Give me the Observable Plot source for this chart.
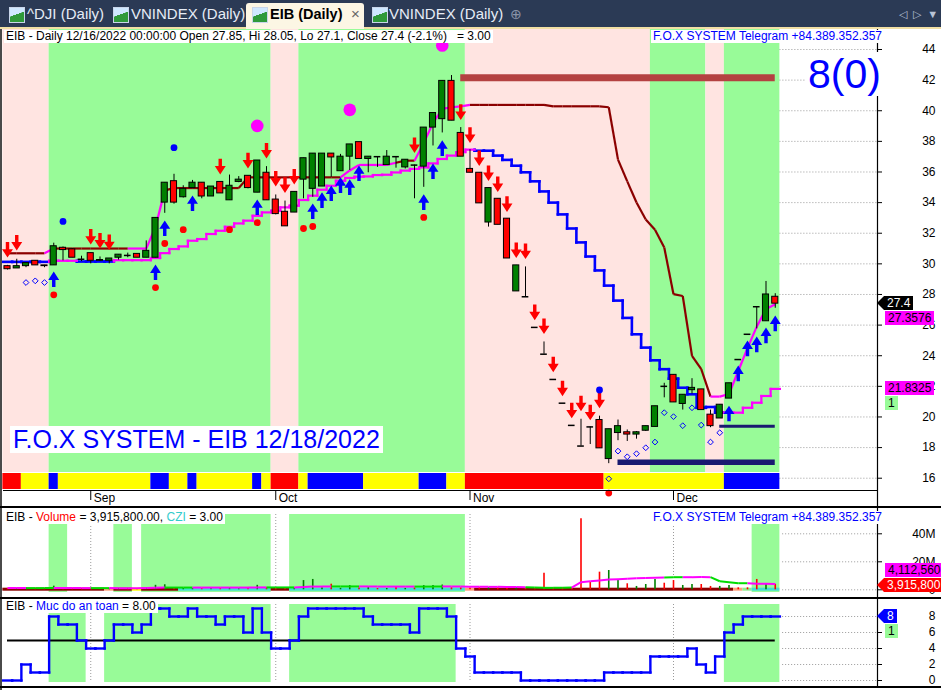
<!DOCTYPE html>
<html>
<head>
<meta charset="utf-8">
<script src="https://cdn.jsdelivr.net/npm/d3@7"></script>
<script src="https://cdn.jsdelivr.net/npm/@observablehq/plot@0.6"></script>
<style>
  html,body{margin:0;padding:0;background:#fff;}
  #wrap{position:relative;width:941px;height:690px;overflow:hidden;background:#fff;font-family:Arial,"Liberation Sans",sans-serif;}
  .a{position:absolute;white-space:pre;}
  .tab{top:4px;height:20px;line-height:20px;font-size:15px;color:#e6ecf5;}
  .icon{top:7px;width:14px;height:14px;border:1px solid #c9d6ea;background:linear-gradient(160deg,#cfe8ff 0 45%,#2f9a3a 46% 100%);}
  .hdr{font-size:12px;line-height:13px;height:13px;background:#fff;color:#000;padding:0 2px;}
  .tag{font-size:12px;line-height:14px;height:14px;padding:0 3px;}
  .sep{left:0;width:941px;height:2px;background:#000;}
  svg{position:absolute;left:0;}
</style>
</head>
<body>
<div id="wrap"></div>
<script>
// ---------------- DATA ----------------
const open  = [29.85,29.7,29.85,30.2,29.9,29.9,31.05,30.95,30.3,30.7, 30.2,30.2,30.4,30.55,30.65,30.4,30.4,34.0,35.4,34.35, 34.95,35.3,34.4,35.35,34.15,35.35,35.75,34.65,35.95,34.2, 33.4,33.35,35.5,34.9,35.05,37.2,36.05,37.0,37.95,36.85, 37.0,36.45,37.0,36.3,36.45,36.35,38.9,39.45,41.95,38.55, 36.2,35.95,32.7,34.25,32.95,28.2,27.85,25.85,24.1,22.45, 20.9,19.45,18.1,19.35,19.8,17.25,18.95,19.0,18.85,19.1, 19.35,22.0,22.75,20.85,21.75,21.8,20.15,19.9,21.2,23.75, 25.4,27.2,26.25,27.85];
const high  = [29.9,30.3,30.05,30.2,29.9,31.35,31.1,31.0,30.5,30.7, 30.45,30.35,30.6,30.7,30.65,31.5,33.0,35.3,35.85,35.1, 35.45,35.3,35.05,35.35,35.8,35.7,35.75,36.75,36.35,34.5, 34.1,34.7,36.9,37.2,37.2,37.2,37.15,37.8,37.95,37.0, 37.0,37.4,37.0,36.8,36.45,38.9,39.85,41.95,42.3,38.9, 37.45,35.95,34.95,34.25,32.95,29.9,29.8,25.85,24.9,22.45, 20.9,19.45,19.85,19.35,20.05,19.2,19.8,19.15,19.05,19.4, 20.7,22.2,22.75,21.45,22.5,21.8,20.45,20.8,22.2,23.75, 25.4,27.2,28.85,28.05];
const low   = [29.6,29.7,29.75,29.9,29.75,29.9,30.2,30.4,30.15,30.0, 30.15,30.0,30.25,30.4,30.4,30.4,30.4,33.3,33.9,34.3, 34.9,34.25,34.4,34.6,34.15,35.3,34.9,34.65,34.15,33.2, 32.45,33.35,34.25,34.35,35.05,35.65,36.05,36.1,36.85,35.95, 36.3,36.45,36.25,36.2,34.25,35.0,37.7,38.55,39.35,37.0, 35.95,33.95,32.4,32.55,30.35,28.2,27.85,25.85,24.1,22.45, 20.9,19.45,18.1,18.2,17.95,16.95,18.45,18.4,18.55,19.05, 19.35,21.25,20.95,20.45,21.5,20.45,19.3,19.9,21.2,23.75, 25.4,25.75,26.25,27.1];
const close = [29.65,29.85,30.05,29.9,29.85,31.15,30.9,30.4,30.3,30.2, 30.25,30.35,30.6,30.55,30.4,30.85,33.0,35.3,34.0,34.9, 35.3,34.4,35.05,34.6,35.1,35.5,34.95,36.75,34.15,33.25, 32.45,34.7,36.9,37.2,37.2,36.95,37.0,37.8,36.85,37.0, 37.0,37.0,37.0,36.8,36.45,38.9,39.85,41.95,39.35,37.0, 35.95,33.95,34.95,32.55,30.35,29.9,27.85,25.85,24.1,22.45, 20.9,19.45,18.1,19.35,17.95,19.2,19.4,18.85,19.0,19.4, 20.7,22.0,20.95,21.45,21.9,20.45,19.4,20.8,22.2,23.75, 25.4,27.2,28.0,27.4];

const monthTicks  = [9, 29, 50, 72];
const monthLabels = ["Sep", "Oct", "Nov", "Dec"];
const priceTicks  = [16,18,20,22,24,26,28,30,32,34,36,38,40,42,44];
const volTicks    = [0, 20, 40];
const safetyTicks = [0, 2, 4, 6, 8];

// background regime per bar range
const mainBgRuns = [["pink",0,4],["green",5,28],["pink",29,31],["green",32,49],["pink",50,69],["green",70,75],["pink",76,77],["green",78,83]];
const stripRuns  = [["red",0,1],["yellow",2,4],["blue",5,5],["yellow",6,15],["blue",16,17],["yellow",18,19],["blue",20,20],["yellow",21,26],["blue",27,27],["yellow",28,28],["red",29,31],["yellow",32,32],["blue",33,38],["yellow",39,44],["blue",45,47],["yellow",48,49],["red",50,64],["yellow",65,77],["blue",78,83]];

// upper trailing line (dark red / magenta)
const upperLine = [30.69,30.69,30.69,30.69,30.69, 31.0, 31.0,31.0,31.0,31.0,31.0,31.0,31.0,31.0, 31.0,31.0, 32.4,34.8,
  34.95,34.95,34.95,34.95,34.95,34.95,34.95,34.95, 35.65,35.65,35.65,35.65,35.65,35.65,35.65,35.65,35.65,35.65,35.65,
  36.1, 36.46,36.46,36.46,36.46, 36.6, 36.74,36.74, 37.9,39.2,40.12,40.23,40.29,40.38,
  40.38,40.38,40.38,40.38,40.38,40.38,40.38,40.38, 40.29,40.29,40.29,40.29,40.29,40.29,
  40.23,36.81,35.39,34.01,32.9,32.23,31.07,28.02,27.9,23.99,23.12,21.33,21.33, 21.5,23.0,24.5,25.9,27.05,27.3576];
const upperRuns = [["d",0,4],["m",5,5],["d",6,13],["m",14,17],["d",18,36],["m",37,42],["d",43,44],["m",45,50],["d",51,76],["m",77,83]];

// lower stepped line (blue / magenta)
const lowerLine = [30.13,30.13,30.13,30.13,30.13, 30.2,30.2,30.2, 30.15,30.15,30.15,30.15, 30.24,30.24,30.24,30.24,
  30.38,30.7,30.97,31.14,31.51,31.62,31.95,32.16,32.42,32.64, 32.82,33.14,33.36,33.47,33.69,33.8,34.17,34.45,34.84,35.1,
  35.43,35.61,35.69,35.71,35.8,35.82,35.97,36.09,36.2,36.3, 36.56,36.85,37.07,37.3,37.46,
  37.39,37.39,37.07,36.79,36.41,35.98,35.39,34.73,34.0,33.23, 32.31,31.4,30.48,29.57,28.58,27.6,26.47,25.4,24.53,23.7,
  23.12,22.5,21.91,21.48,20.6,20.65,20.28, 20.28,20.28,20.6,20.93,21.37,21.8325];
const lowerRuns = [["b",0,4],["m",5,7],["b",8,11],["m",12,50],["b",51,77],["m",78,83]];

// horizontal levels
const resistance = [{from: 49, to: 83, price: 42.15}];
const supportLow = [{from: 66, to: 83, price: 17.05}];
const supportHigh = [{from: 77, to: 83, price: 19.39}];

// signals [bar, price]
const sellArrows = [[0,30.92],[1,31.38],[9,31.77],[10,31.51],[11,31.41],[23,36.35],[26,36.74],[28,37.39],[29,35.56],[30,35.14],[31,35.69],[44,37.75],[49,39.91],[50,38.41],[51,36.9],[52,35.92],[53,35.2],[54,33.9],[55,30.89],[56,30.82],[57,26.83],[58,25.92],[59,23.43],[60,21.86],[61,20.42],[62,20.88],[63,20.29],[64,21.08]];
const buyArrows  = [[5,28.99],[16,29.45],[17,32.33],[20,33.96],[27,33.7],[33,33.44],[34,34.16],[35,34.61],[36,35.14],[37,35.01],[38,35.92],[45,34.03],[46,36.05],[47,37.56],[78,20.23],[79,22.85],[80,24.48],[81,24.74],[82,25.33],[83,26.11]];
const redDots    = [[5,27.98],[16,28.45],[17,31.33],[19,32.23],[24,32.23],[27,32.69],[32,32.31],[33,32.44],[45,33.03],[65,15.03]];
const blueDots   = [[6,32.77],[18,37.59],[64,21.76]];
const bigCircles = [[27,39.01],[37,40.06],[47,44.26]];
const openDiamonds = [[2,28.78],[3,28.89],[4,28.78],[65,15.96],[66,17.77],[67,17.4],[68,17.6],[69,17.99],[70,18.36],[71,20.28],[72,20.02],[73,19.43],[74,20.6],[75,19.47],[76,18.36],[77,18.97]];

// volume panel (millions)
const volume = [0.9,0.6,0.8,0.7,0.6,2.6,0.9,1.0,0.6,0.9, 0.7,0.7,0.8,0.6,0.9,1.1,3.2,3.6,1.3,1.0, 1.0,0.9,0.9,1.1,1.3,0.8,1.1,3.2,1.4,1.2, 1.3,1.2,6.6,7.4,1.4,4.0,1.1,3.0,1.3,1.8, 0.9,1.0,2.2,1.0,1.3,3.0,3.0,3.4,1.5,1.4, 1.3,1.5,1.6,1.4,1.6,1.6,0.9,0.6,11.9,1.3, 1.5,1.3,50.7,5.4,12.6,13.8,6.6,4.3,2.4,3.8, 7.4,4.7,6.6,3.1,3.8,3.8,2.4,2.4,3.1,1.4, 1.4,7.4,4.3,3.9158];
const volMA  = [1.3,1.3,1.2,1.2,1.2,1.3,1.3,1.3,1.2,1.2, 1.2,1.2,1.1,1.1,1.1,1.2,1.4,1.6,1.6,1.6, 1.6,1.6,1.6,1.6,1.6,1.6,1.6,1.7,1.7,1.7, 1.7,1.7,2.0,2.3,2.3,2.4,2.4,2.4,2.4,2.4, 2.3,2.3,2.3,2.3,2.3,2.3,2.3,2.4,2.4,2.3, 2.2,2.2,2.1,2.1,2.0,2.0,1.9,1.6,1.4,1.4, 1.5,1.6,5.4,6.1,6.6,7.4,7.6,7.9,8.2,8.5, 8.6,8.8,9.0,9.0,9.0,9.2,9.0,6.1,5.4,4.7, 4.7,4.3,4.3,4.11256];
const volMARuns = [["m",0,2],["g",3,5],["m",6,9],["g",10,11],["m",12,17],["g",18,20],["m",21,28],["g",29,31],["m",32,35],["g",36,38],["m",39,44],["g",45,47],["m",48,56],["g",57,61],["m",62,71],["g",72,73],["m",74,76],["g",77,80],["m",81,83]];
const cziRuns = [["darkred",0,10],["orange",11,11],["darkred",12,13],["yellow",14,14],["darkred",15,18],["turq",19,28],["darkred",29,30],["turq",31,49],["orange",50,50],["darkred",51,78],["orange",79,79],["lgreen",80,80],["turq",81,83]];
const cziValue = 3.00;
const volBgRuns = [[5,6],[12,13],[15,28],[31,49],[81,83]];

// safety level panel ("Muc do an toan")
const safety = [0,0,2,1,1,8,7,7,5,4, 4,5,7,7,6,7,9,9,8,8, 9,8,8,7,8,8,6,9,6,4, 4,5,8,9,9,9,9,9,9,8, 7,7,7,7,6,9,9,9,8,4, 3,1,1,1,1,1,0,0,0,0, 0,0,0,0,0,1,1,1,1,1, 3,3,3,3,4,2,1,3,6,7, 8,8,8,8];
const safeLevel = 5;
const lastDate = "12/16/2022";

// ---------------- HELPERS ----------------
const FONT = "Arial, 'Liberation Sans', sans-serif";
const N = close.length;
const COL = {pink:"#ffe4e1", green:"#98fb98", red:"#ff0000", yellow:"#ffff00", blue:"#0000ff",
  darkred:"#8b0000", magenta:"#ff00ff", turq:"#40e0d0", orange:"#ffa07a", lgreen:"#90ee90",
  candleUp:"#008000", candleDown:"#ff0000", maGreen:"#00dd00"};
function expandRuns(runs, n){ const out = new Array(n); for (const [k,a,b] of runs) for (let i=a;i<=b;i++) out[i]=k; return out; }
function polySegments(values, states){ return values.slice(1).map((v,k)=>({x1:k,x2:k+1,y1:values[k],y2:v,s:states[k+1]})); }
function stepSegments(values, states){
  const segs=[];
  values.forEach((v,i)=>{
    segs.push({x1:i-0.5,x2:i+0.5,y1:v,y2:v,s:states[i]});
    if (i>0) segs.push({x1:i-0.5,x2:i-0.5,y1:values[i-1],y2:v,s:states[i]});
  });
  return segs;
}
const bars = d3.range(N).map(i=>({i,o:open[i],h:high[i],l:low[i],c:close[i],v:volume[i]}));
const candleColor = d => d.c > d.o ? COL.candleUp : COL.candleDown;

// layout: 9.25 px per bar, first bar at x=7, frame from x=3 to x=877
const PXB = 9.25, FRAME_L = 3, FRAME_R = 877, FIRST_X = 7;
const xMin = -(FIRST_X-FRAME_L)/PXB, xMax = xMin + (FRAME_R-FRAME_L)/PXB;
const xEnd = N - 0.5;

const arrowDown = {draw(ctx,size){const r=Math.sqrt(size/Math.PI);
  ctx.moveTo(-0.22*r,-r);ctx.lineTo(0.22*r,-r);ctx.lineTo(0.22*r,-0.08*r);ctx.lineTo(0.7*r,-0.08*r);
  ctx.lineTo(0,r);ctx.lineTo(-0.7*r,-0.08*r);ctx.lineTo(-0.22*r,-0.08*r);ctx.closePath();}};
const arrowUp = {draw(ctx,size){const r=Math.sqrt(size/Math.PI);
  ctx.moveTo(-0.22*r,r);ctx.lineTo(0.22*r,r);ctx.lineTo(0.22*r,0.08*r);ctx.lineTo(0.7*r,0.08*r);
  ctx.lineTo(0,-r);ctx.lineTo(-0.7*r,0.08*r);ctx.lineTo(-0.22*r,0.08*r);ctx.closePath();}};

const wrap = document.getElementById("wrap");
function el(cls, css, html){ const d=document.createElement("div"); d.className=cls; Object.assign(d.style, css); if (html!=null) d.innerHTML=html; wrap.appendChild(d); return d; }
function tag(left, top, text, bg, fg, arrow){
  el("a tag", {left:left+"px", top:top+"px", background:bg, color:fg}, text);
  if (arrow) el("a", {left:(left-7)+"px", top:top+"px", width:"0", height:"0", borderTop:"7px solid transparent", borderBottom:"7px solid transparent", borderRight:"7px solid "+bg});
}

// ---------------- MAIN PRICE PANEL ----------------
const MAIN_TOP = 29, MAIN_H = 477, PX_PRICE = 15.311;
const yMin = 44 - (461-20)/PX_PRICE;
const upStates = expandRuns(upperRuns, N);
const lowStates = expandRuns(lowerRuns, N);
const lowSegs = stepSegments(lowerLine, lowStates);
const upSegs = polySegments(upperLine, upStates);
const bodyBars = bars.filter(d=>d.o!==d.c);
const flatBars = bars.filter(d=>d.o===d.c);

const main = Plot.plot({
  width: 941, height: MAIN_H,
  marginLeft: FRAME_L, marginRight: 941-FRAME_R, marginTop: 20, marginBottom: MAIN_H-461,
  x: {type:"linear", domain:[xMin,xMax]},
  y: {type:"linear", domain:[yMin,44]},
  style: {fontFamily: FONT, fontSize:"12px", background:"transparent", overflow:"visible"},
  marks: [
    Plot.ruleY(priceTicks, {x1: xEnd, x2: xMax, stroke:"#9a9a9a", strokeDasharray:"1,2"}),
    Plot.rect(mainBgRuns, {x1:d=>d[1]-0.5, x2:d=>d[2]+0.5, fill:d=>COL[d[0]], insetTop:-20, insetBottom:18}),
    Plot.rect(stripRuns, {x1:d=>d[1]-0.5, x2:d=>d[2]+0.5, fill:d=>COL[d[0]], insetTop:424, insetBottom:1}),
    Plot.link(lowSegs.filter(d=>d.s==="b"), {x1:"x1",x2:"x2",y1:"y1",y2:"y2", stroke:COL.blue, strokeWidth:2.6, strokeLinecap:"square"}),
    Plot.link(lowSegs.filter(d=>d.s==="m"), {x1:"x1",x2:"x2",y1:"y1",y2:"y2", stroke:COL.magenta, strokeWidth:2.2, strokeLinecap:"square"}),
    Plot.link(upSegs, {x1:"x1",x2:"x2",y1:"y1",y2:"y2", stroke:d=>d.s==="m"?COL.magenta:COL.darkred, strokeWidth:2.2}),
    Plot.ruleY(resistance, {y:"price", x1:"from", x2:"to", stroke:"#b44141", strokeWidth:7}),
    Plot.ruleY(supportLow, {y:"price", x1:"from", x2:"to", stroke:"#191970", strokeWidth:5.5}),
    Plot.ruleY(supportHigh, {y:"price", x1:"from", x2:"to", stroke:"#191970", strokeWidth:3}),
    Plot.ruleX(bars, {x:"i", y1:"l", y2:"h", stroke:"#000", strokeWidth:1}),
    Plot.rect(bodyBars, {x1:d=>d.i-0.33, x2:d=>d.i+0.33, y1:"o", y2:"c", fill:candleColor, stroke:"#000", strokeWidth:1}),
    Plot.ruleY(flatBars, {y:"o", x1:d=>d.i-0.36, x2:d=>d.i+0.36, stroke:"#000", strokeWidth:1.5}),
    Plot.dot(sellArrows, {x:d=>d[0], y:d=>d[1], symbol:arrowDown, r:7.8, fill:COL.red, stroke:null}),
    Plot.dot(buyArrows, {x:d=>d[0], y:d=>d[1], symbol:arrowUp, r:7.8, fill:COL.blue, stroke:null}),
    Plot.dot(redDots, {x:d=>d[0], y:d=>d[1], r:3.4, fill:COL.red, stroke:null}),
    Plot.dot(blueDots, {x:d=>d[0], y:d=>d[1], r:3.4, fill:COL.blue, stroke:null}),
    Plot.dot(bigCircles, {x:d=>d[0], y:d=>d[1], r:6.3, fill:COL.magenta, stroke:null}),
    Plot.dot(openDiamonds, {x:d=>d[0], y:d=>d[1], r:2.6, symbol:"diamond2", fill:"none", stroke:COL.blue, strokeWidth:1}),
    Plot.ruleY([yMin], {stroke:"#000", strokeWidth:1.2}),
    Plot.axisX(monthTicks, {tickSize:10, tickFormat:()=>"", stroke:"#000"}),
    Plot.text(monthTicks, {x:d=>d, text:(d,i)=>monthLabels[i], frameAnchor:"bottom", textAnchor:"start", lineAnchor:"top", dx:3, dy:3, fontSize:12, fill:"#000"}),
    Plot.ruleX([xMax], {stroke:"#000", strokeWidth:1.2, insetTop:-20, insetBottom:-(MAIN_H-461)}),
    Plot.axisY(priceTicks, {anchor:"right", tickSize:4, tickPadding:54, textAnchor:"end", fontSize:12, tickFormat:d=>String(d)})
  ]
});
main.style.top = MAIN_TOP+"px";
wrap.appendChild(main);

// ---------------- VOLUME PANEL ----------------
const VOL_TOP = 508, VOL_H = 89;
const maStates = expandRuns(volMARuns, N);
const maSegs = polySegments(volMA, maStates);
const vol = Plot.plot({
  width: 941, height: VOL_H,
  marginLeft: FRAME_L, marginRight: 941-FRAME_R, marginTop: 6, marginBottom: 5,
  x: {type:"linear", domain:[xMin,xMax], axis:null},
  y: {type:"linear", domain:[-1.93,53.79], axis:null},
  style: {fontFamily: FONT, fontSize:"12px", background:"transparent", overflow:"visible"},
  marks: [
    Plot.ruleX(monthTicks, {x:d=>d, stroke:"#9a9a9a", strokeDasharray:"1,2"}),
    Plot.ruleY(volTicks, {x1: xEnd+0.3, x2: xMax, stroke:"#9a9a9a", strokeDasharray:"1,2"}),
    Plot.rect(volBgRuns, {x1:d=>d[0]-0.5, x2:d=>d[1]+0.5, fill:COL.green}),
    Plot.rect(cziRuns, {x1:d=>d[1]-0.5, x2:d=>d[2]+0.5, y1:-1.0, y2:1.15, fill:d=>COL[d[0]]}),
    Plot.ruleX(bars, {x:"i", y1:0, y2:"v", stroke:candleColor, strokeWidth:1.6}),
    Plot.link(maSegs, {x1:"x1",x2:"x2",y1:"y1",y2:"y2", stroke:d=>d.s==="m"?COL.magenta:COL.maGreen, strokeWidth:2}),
    Plot.ruleX([xMax], {stroke:"#000", strokeWidth:1.2, insetTop:-6, insetBottom:-5}),
    Plot.axisY(volTicks, {anchor:"right", tickSize:4, tickPadding:54, textAnchor:"end", fontSize:12, tickFormat:d=>d?d+"M":"0"})
  ]
});
vol.style.top = VOL_TOP+"px";
wrap.appendChild(vol);

// ---------------- SAFETY PANEL ----------------
const SAFE_TOP = 599, SAFE_H = 87;
const safeRuns = [];
{ let s=null; safety.forEach((v,i)=>{ const on=v>=safeLevel; if(on&&s===null) s=i; if(s!==null&&(!on||i===N-1)){ safeRuns.push([s, on?i:i-1]); s=null; } }); }
const safeSegs = stepSegments(safety, safety.map(()=>"b"));
const saf = Plot.plot({
  width: 941, height: SAFE_H,
  marginLeft: FRAME_L, marginRight: 941-FRAME_R, marginTop: 5, marginBottom: 4,
  x: {type:"linear", domain:[xMin,xMax], axis:null},
  y: {type:"linear", domain:[-0.25,9.5], axis:null},
  style: {fontFamily: FONT, fontSize:"12px", background:"transparent", overflow:"visible"},
  marks: [
    Plot.ruleX(monthTicks, {x:d=>d, stroke:"#9a9a9a", strokeDasharray:"1,2"}),
    Plot.ruleY(safetyTicks, {x1: xEnd+0.3, x2: xMax, stroke:"#9a9a9a", strokeDasharray:"1,2"}),
    Plot.rect(safeRuns, {x1:d=>d[0]-0.5, x2:d=>d[1]+0.5, fill:COL.green}),
    Plot.ruleY([safeLevel], {x1:0, x2:N-1, stroke:"#000", strokeWidth:2}),
    Plot.link(safeSegs, {x1:"x1",x2:"x2",y1:"y1",y2:"y2", stroke:COL.blue, strokeWidth:2.4, strokeLinecap:"square"}),
    Plot.ruleX([xMax], {stroke:"#000", strokeWidth:1.2, insetTop:-5, insetBottom:-4}),
    Plot.axisY(safetyTicks, {anchor:"right", tickSize:4, tickPadding:54, textAnchor:"end", fontSize:12})
  ]
});
saf.style.top = SAFE_TOP+"px";
wrap.appendChild(saf);

// ---------------- CHROME, HEADERS & LABELS ----------------
el("a", {left:"0", top:"0", width:"941px", height:"27px", background:"#2b3a55"});
el("a", {left:"0", top:"27px", width:"941px", height:"2px", background:"#f1dfa4"});
el("a", {left:"246px", top:"3px", width:"118px", height:"26px", background:"#fcf6e4", borderRadius:"3px 3px 0 0"});
el("a icon", {left:"9px"}); el("a tab", {left:"27px"}, "^DJI (Daily)");
el("a icon", {left:"113px"}); el("a tab", {left:"131px"}, "VNINDEX (Daily)");
el("a icon", {left:"252px"}); el("a tab", {left:"270px", color:"#000", fontWeight:"bold", fontSize:"14.5px"}, "EIB (Daily)");
el("a tab", {left:"351px", color:"#666", fontSize:"15px"}, "×");
el("a icon", {left:"372px"}); el("a tab", {left:"389px"}, "VNINDEX (Daily)");
el("a tab", {left:"510px", color:"#8a94a8", fontSize:"14px"}, "⊕");
el("a tab", {left:"899px", color:"#b9c3d6", fontSize:"11px"}, "◁  ▷  ▼");

el("a", {left:"0", top:"29px", width:"2px", height:"661px", background:"#4a4a4a"});
el("a sep", {top:"506px"});
el("a sep", {top:"597px"});
el("a sep", {top:"686px"});

const last = N-1;
const chg = ((close[last]/close[last-1]-1)*100).toFixed(1);
el("a hdr", {left:"4px", top:"30px"}, `EIB - Daily ${lastDate} 00:00:00 Open ${open[last]}, Hi ${high[last]}, Lo ${low[last]}, Close ${close[last]} (${chg}%)   = ${cziValue.toFixed(2)}`);
el("a hdr", {right:(941-884)+"px", top:"30px", color:"#0000ff"}, "F.O.X SYSTEM Telegram +84.389.352.357");
el("a hdr", {left:"4px", top:"511px"}, `EIB - <span style="color:#ff0000">Volume</span> = ${d3.format(",.2f")(volume[last]*1e6)}, <span style="color:#33cccc">CZI</span> = ${cziValue.toFixed(2)}`);
el("a hdr", {right:(941-884)+"px", top:"511px", color:"#0000ff"}, "F.O.X SYSTEM Telegram +84.389.352.357");
el("a hdr", {left:"4px", top:"600px"}, `EIB - <span style="color:#0000ff">Muc do an toan</span> = ${safety[last].toFixed(2)}`);

el("a", {left:"10px", top:"426px", height:"27px", lineHeight:"27px", background:"#fff", color:"#0000ff", fontSize:"25px", padding:"0 3px"}, "F.O.X SYSTEM - EIB 12/18/2022");
el("a", {left:"806px", top:"52px", height:"44px", lineHeight:"44px", background:"#fff", color:"#0000ff", fontSize:"41px", padding:"0 2px"}, "8(0)");

// value tags positioned with the plot scales
const ym = v => MAIN_TOP + main.scale("y").apply(v);
const t1 = Math.round(ym(close[last]) - 7);
tag(884, t1, String(close[last]), "#000", "#fff", true);
const t2 = Math.max(Math.round(ym(upperLine[last]) - 7), t1 + 15);
tag(885, t2, String(upperLine[last]), COL.magenta, "#000", false);
const t3 = Math.round(ym(lowerLine[last]) - 7);
tag(885, t3, String(lowerLine[last]), COL.magenta, "#000", false);
tag(885, t3 + 15, "1", COL.green, "#000", false);

const yv = v => VOL_TOP + vol.scale("y").apply(v);
const v1 = Math.round(yv(volume[last]) - 6);
tag(884, v1, d3.format(",")(Math.round(volume[last]*1e6)), "#ff0000", "#fff", true);
tag(885, v1 - 15, d3.format(",")(Math.round(volMA[last]*1e6)), COL.magenta, "#000", false);

const ys = v => SAFE_TOP + saf.scale("y").apply(v);
const s1 = Math.round(ys(safety[last]) - 7);
tag(884, s1, String(safety[last]), "#0000ff", "#fff", true);
tag(885, s1 + 15, "1", COL.green, "#000", false);
</script>
</body>
</html>
